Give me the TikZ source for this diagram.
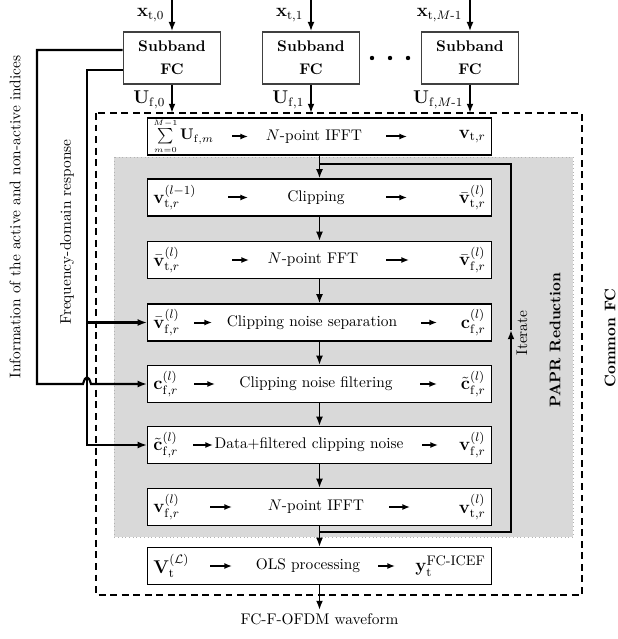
\documentclass[tikz,border=0pt]{standalone}
\usepackage{amsmath}
\usetikzlibrary{arrows.meta, calc}

\newcommand\px{0.65pt}
\tikzset{
  stage/.style={draw, fill=white, line width=0.7pt, minimum width={344*\px}, minimum height={37*\px}, inner sep=0pt},
  subband/.style={draw=black!75, fill=white, line width=1pt, minimum width={97*\px}, minimum height={52*\px}, align=center, font=\bfseries},
  flow/.style={line width=1.2pt, -{Latex[length=6pt,width=4.5pt]}},
  rowarr/.style={line width=1.3pt, -{Latex[length=5pt,width=4pt]}},
  fb/.style={line width=1.4pt},
}

\begin{document}
\begin{tikzpicture}[x=\px, y=-\px]
                  \useasboundingbox (0,0) rectangle (617,639);

                  \draw[dashed, line width=0.8pt, dash pattern=on 4.5pt off 3pt] (96,113) rectangle (582,595);
                  \fill[black!15] (114,157) rectangle (573,537);
                  \draw[dotted, black!30] (114,157) rectangle (573,537);

                  \foreach \i/\x/\idx in {0/172/0, 1/311/1, 2/470/{M\text{-}1}} {
                    \node[subband] (sb\i) at (\x,58) {Subband\\[3pt]FC};
                    \coordinate (in\i) at (\x,0);
                    \coordinate (out\i) at (\x,113);
                    \draw[flow] (in\i) -- (sb\i.north);
                    \draw[flow] (sb\i.south) -- (out\i);
                    \node[anchor=east, inner sep=1pt, font=\large] (xl\i) at (\x-6,15) {$\mathbf{x}_{\mathrm{t},\idx}$};
                    \node[anchor=east, inner sep=1pt, font=\large] (ul\i) at (\x-5,100) {$\mathbf{U}_{\mathrm{f},\idx}$};
                  }
                  \foreach \x in {372, 390, 408}
                  \fill (\x,58) circle (2.2);

                  \node[stage] (sum)  at (319.5,136.5) {};
                  \node[stage] (clip) at (319.5,197.5) {};
                  \node[stage] (fft)  at (319.5,260) {};
                  \node[stage] (sep)  at (319.5,322.5) {};
                  \node[stage] (filt) at (319.5,384) {};
                  \node[stage] (data) at (319.5,445) {};
                  \node[stage] (ifft) at (319.5,507) {};
                  \node[stage] (ols)  at (319.5,566) {};

                  \foreach[count=\i] \y/\lft/\mx/\mtxt/\rgt in {
                    136.5/{\normalsize$\sum\limits_{\scriptscriptstyle m=0}^{\scriptscriptstyle M-1}\mathbf{U}_{\mathrm{f},m}$}/314/{$N$-point IFFT}/{$\mathbf{v}_{\mathrm{t},r}$},
                    197.5/{$\mathbf{v}_{\mathrm{t},r}^{(l-1)}$}/316/{Clipping}/{$\bar{\mathbf{v}}_{\mathrm{t},r}^{(l)}$},
                    260/{$\bar{\mathbf{v}}_{\mathrm{t},r}^{(l)}$}/313/{$N$-point FFT}/{$\bar{\mathbf{v}}_{\mathrm{f},r}^{(l)}$},
                    322.5/{$\bar{\mathbf{v}}_{\mathrm{f},r}^{(l)}$}/312/{Clipping noise separation}/{$\mathbf{c}_{\mathrm{f},r}^{(l)}$},
                    384/{$\mathbf{c}_{\mathrm{f},r}^{(l)}$}/316/{Clipping noise filtering}/{$\tilde{\mathbf{c}}_{\mathrm{f},r}^{(l)}$},
                    445/{$\tilde{\mathbf{c}}_{\mathrm{f},r}^{(l)}$}/309/{Data+filtered clipping noise}/{$\mathbf{v}_{\mathrm{f},r}^{(l)}$},
                    507/{$\mathbf{v}_{\mathrm{f},r}^{(l)}$}/316/{$N$-point IFFT}/{$\mathbf{v}_{\mathrm{t},r}^{(l)}$},
                    566/{$\mathbf{V}_{\mathrm{t}}^{(\mathcal{L})}$}/308/{OLS processing}/{$\mathbf{y}_{\mathrm{t}}^{\text{\small FC-ICEF}}$}} {
                    \node[anchor=west, inner sep=0pt, font=\large] (src\i) at (153,\y) {\lft};
                    \node[inner sep=0pt] (op\i) at (\mx,\y) {\mtxt};
                    \node[anchor=east, inner sep=0pt, font=\large] (res\i) at (486,\y) {\rgt};
                  }

                  \foreach \y/\a/\b/\c/\d in {136.5/232/248/386/407, 197.5/228/248/386/407,
                    260/232/249/386/409, 322.5/194/212/421/437, 384/194/215/420/437,
                    445/193/213/422/438, 507/210/232/389/410, 566/210/232/378/395} {
                    \draw[rowarr] (\a,\y) -- (\b,\y);
                    \draw[rowarr] (\c,\y) -- (\d,\y);
                  }

                  \foreach \a/\b in {sum/clip, clip/fft, fft/sep, sep/filt, filt/data, data/ifft, ifft/ols}
                  \draw[flow] (\a.south) -- (\b.north);

                  \coordinate (jtop) at (319.5,164);
                  \coordinate (jbot) at (319.5,532);
                  \coordinate (itr) at (511,330);
                  \draw[fb, -{Latex[length=6pt,width=4.5pt]}] (jbot) -| (itr);
                  \draw[fb] (itr) |- (jtop);
                  \node[rotate=90] (iterate) at (522,333) {Iterate};

                  \draw[fb, -{Latex[length=6pt,width=4.5pt]}] (sb0.west |- 0,50) -| (37,384) -- (83,384)
                    .. controls (85.5,375) and (88.5,375) .. (91,384) -- (filt.west);
                  \draw[fb, -{Latex[length=6pt,width=4.5pt]}] (sb0.west |- 0,70) -| (87,445) -- (data.west);
                  \draw[fb, -{Latex[length=6pt,width=4.5pt]}] (87,322.5) -- (sep.west);

                  \node[rotate=90] (info) at (15,217) {Information of the active and non-active indices};
                  \node[rotate=90] (freq) at (67,232) {Frequency-domain response};
                  \node[rotate=90, font=\bfseries] (papr) at (555,340) {PAPR Reduction};
                  \node[rotate=90, font=\bfseries] (common) at (610,338) {Common FC};

                  \node[anchor=north, inner sep=2pt] (wave) at (319.5,610) {FC-F-OFDM waveform};
                  \draw[flow] (ols.south) -- (wave.north);
              \end{tikzpicture}
\end{document}
